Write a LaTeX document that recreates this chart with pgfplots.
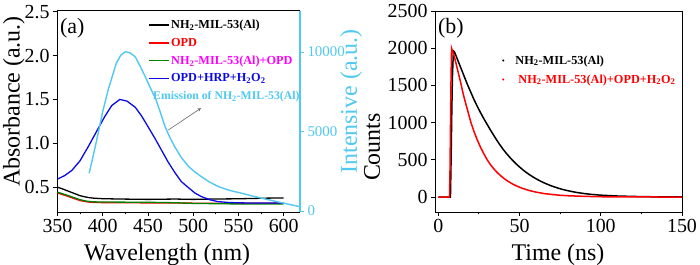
\documentclass[border=0pt]{standalone}
\usepackage{fontspec}
\setmainfont{Liberation Serif}
\usepackage{pgfplots}
\pgfplotsset{compat=1.18}
\definecolor{cyanE}{RGB}{80,200,240}
\definecolor{blueA}{RGB}{10,10,230}
\definecolor{greenA}{RGB}{0,130,0}
\definecolor{redA}{RGB}{255,0,0}
\definecolor{magA}{RGB}{255,0,255}
\newcommand{\tickfont}{\fontsize{20}{22}\selectfont}
\newcommand{\labfont}{\fontsize{24}{26}\selectfont}
\newcommand{\legfont}{\bfseries\fontsize{12.3}{14}\selectfont}
\pgfplotsset{
  common/.style={
    scale only axis, anchor=south west, clip mode=individual,
    tick align=outside, major tick length=4bp, minor tick length=2.5bp,
    axis line style={line width=1bp},
    every tick/.style={line width=0.8bp, black},
    /pgf/number format/assume math mode=true,
    /pgf/number format/1000 sep={},
    scaled ticks=false,
    ticklabel style={font=\tickfont},
  }
}
\begin{document}
\begin{tikzpicture}
\path[use as bounding box] (0,0) rectangle (700bp,265bp);
% ---------------- panel (a) left axis ----------------
\begin{axis}[common,
  at={(57bp,53bp)}, width=243bp, height=201bp,
  xmin=349.5, xmax=618, ymin=0.214, ymax=2.51,
  axis x line*=box, axis y line*=left, xtick pos=left,
  xtick={350,400,450,500,550,600}, minor x tick num=1,
  ytick={0.5,1,1.5,2,2.5},
  yticklabel style={/pgf/number format/.cd, fixed, fixed zerofill, precision=1},
  legend style={draw=none, fill=none, at={(axis description cs:0.3745,0.963)}, anchor=north west,
    font=\legfont, row sep=5bp, inner sep=0pt, nodes={inner sep=1.5bp}},
  legend cell align=left,
  legend image code/.code={\draw[#1, line width=1.5bp] (0bp,0bp) -- (20bp,0bp);},
]
\addplot[black, line width=1.3bp] coordinates {
(350,0.497) (355,0.48) (360,0.46) (365,0.44) (370,0.42) (375,0.40) (380,0.388) (385,0.378)
(390,0.372) (400,0.366) (420,0.362) (450,0.358) (480,0.362) (500,0.358) (520,0.362)
(550,0.365) (580,0.372) (600,0.375)};
\addlegendentry{NH\textsubscript{2}-MIL-53(Al)}
\addplot[redA, line width=1.3bp] coordinates {
(350,0.432) (355,0.415) (360,0.398) (365,0.38) (370,0.362) (375,0.345) (380,0.334) (385,0.327)
(390,0.323) (400,0.321) (450,0.318) (500,0.315) (550,0.312) (600,0.316)};
\addlegendentry{\textcolor{redA}{OPD}}
\addplot[greenA, line width=1.3bp] coordinates {
(350,0.44) (355,0.425) (360,0.408) (365,0.39) (370,0.372) (375,0.355) (380,0.342) (385,0.334)
(390,0.330) (400,0.328) (450,0.325) (480,0.32) (500,0.312) (550,0.306) (600,0.305)};
\addlegendentry{\textcolor{magA}{NH\textsubscript{2}-MIL-53(Al)+OPD}}
\addplot[blueA, line width=1.3bp] coordinates {
(350,0.59) (358,0.63) (366,0.69) (375,0.80) (384,0.96) (393,1.13) (402,1.30) (410,1.43)
(419,1.50) (427,1.48) (436,1.41) (443,1.31) (450,1.19) (458,1.05) (465,0.92) (472,0.79)
(480,0.66) (487,0.56) (495,0.49) (502,0.43) (509,0.39) (518,0.355) (527,0.333) (540,0.322)
(560,0.317) (580,0.316) (600,0.316)};
\addlegendentry{\textcolor{blueA}{OPD+HRP+H\textsubscript{2}O\textsubscript{2}}}
\draw[-stealth, black!60, line width=0.6bp] (axis cs:472.4,1.15) -- (axis cs:508.6,1.40);
\node[anchor=west, text=cyanE, font=\bfseries\fontsize{11.8}{13}\selectfont, inner sep=0pt]
  at (axis description cs:0.395,0.572) {Emission of NH\textsubscript{2}-MIL-53(Al)};
\node[anchor=north west, font=\fontsize{22}{24}\selectfont, inner sep=0pt]
  at (axis description cs:0.012,0.965) {(a)};
\node[rotate=90, font=\labfont] at (axis description cs:-0.177,0.55) {Absorbance (a.u.)};
\node[font=\labfont] at (axis description cs:0.453,-0.212) {Wavelength (nm)};
\node[rotate=90, font=\labfont, text=cyanE] at (axis description cs:1.21,0.55) {Intensive (a.u.)};
\end{axis}
% ---------------- panel (a) right axis ----------------
\begin{axis}[common,
  at={(57bp,53bp)}, width=243bp, height=201bp,
  xmin=349.5, xmax=618, ymin=-63, ymax=12580,
  axis x line=none, axis y line*=right,
  y axis line style={cyanE, line width=1.3bp},
  ytick={0,5000,10000},
  ytick style={cyanE, line width=0.8bp},
  yticklabel style={text=cyanE, font=\fontsize{15}{17}\selectfont},
]
\addplot[cyanE, line width=1.4bp] coordinates {
(385,2370) (390,3600) (395,4890) (400,6250) (406,7610) (411,8550) (415,9290) (420,9800)
(425,10020) (430,9950) (436,9700) (441,9150) (447,8450) (453,7700) (459,6980) (464,6150)
(469,5300) (474,4650) (480,4000) (487,3350) (495,2790) (502,2450) (509,2160) (518,1820)
(528,1530) (540,1300) (554,1110) (565,950) (576,800) (590,620) (601,480) (610,370) (618,270)};
\end{axis}
% ---------------- panel (b) ----------------
\begin{axis}[common,
  at={(435bp,53bp)}, width=247bp, height=201bp,
  xmin=-2, xmax=150, ymin=-200, ymax=2500,
  axis x line*=box, axis y line*=box, xtick pos=left, ytick pos=left,
  xtick={0,50,100,150}, minor x tick num=1,
  ytick={0,500,1000,1500,2000,2500},
  legend style={draw=none, fill=none, at={(axis description cs:0.271,0.787)}, anchor=north west,
    font=\legfont, row sep=6bp, inner sep=0pt, nodes={inner sep=1.5bp}},
  legend cell align=left,
  legend image code/.code={\fill[#1, draw=none] (0bp,0bp) circle (1.1bp); \path (10bp,0bp);},
]
\addplot[black, line width=1.5bp] coordinates {
(0,0) (7.5,0) (7.9,500) (8.3,1100) (8.7,1600) (9.2,1900) (9.5,1960) (10,1950) (12,1840)
(14,1730) (16,1620) (18,1510) (20,1410) (22,1310) (24,1220) (26,1135) (28,1055) (30,980)
(32,905) (34,835) (36,765) (38,700) (40,640) (42,585) (44,535) (46,488) (48,445) (50,405)
(52,368) (54,334) (56,303) (58,275) (60,249) (62,225) (64,203) (66,183) (68,165) (70,148)
(72,133) (74,119) (76,106) (78,95) (80,85) (85,63) (90,47) (95,35) (100,26) (110,15)
(120,9) (130,5) (140,3) (150,2)};
\addlegendentry{NH\textsubscript{2}-MIL-53(Al)}
\addplot[redA, line width=1.5bp] coordinates {
(0,0) (6.9,0) (7.2,300) (7.5,900) (7.8,1500) (8.2,2000) (9,1950) (10,1880) (11,1790)
(12,1700) (13,1610) (14,1520) (15,1420) (16,1330) (18,1170) (20,1010) (22,880) (24,770)
(26,670) (28,585) (30,505) (32,440) (34,385) (36,337) (38,295) (40,258) (42,226) (44,198)
(46,173) (48,152) (50,133) (52,116) (54,102) (56,89) (58,78) (60,68) (65,48) (70,35)
(75,25) (80,18) (90,10) (100,5) (110,3) (120,2) (150,1)};
\addlegendentry{\hspace{3bp}\textcolor{redA}{NH\textsubscript{2}-MIL-53(Al)+OPD+H\textsubscript{2}O\textsubscript{2}}}
\node[anchor=north west, font=\fontsize{22}{24}\selectfont, inner sep=0pt]
  at (axis description cs:0.012,0.965) {(b)};
\node[rotate=90, font=\labfont] at (axis description cs:-0.255,0.323) {Counts};
\node[font=\labfont] at (axis description cs:0.498,-0.212) {Time (ns)};
\end{axis}
\end{tikzpicture}
\end{document}
